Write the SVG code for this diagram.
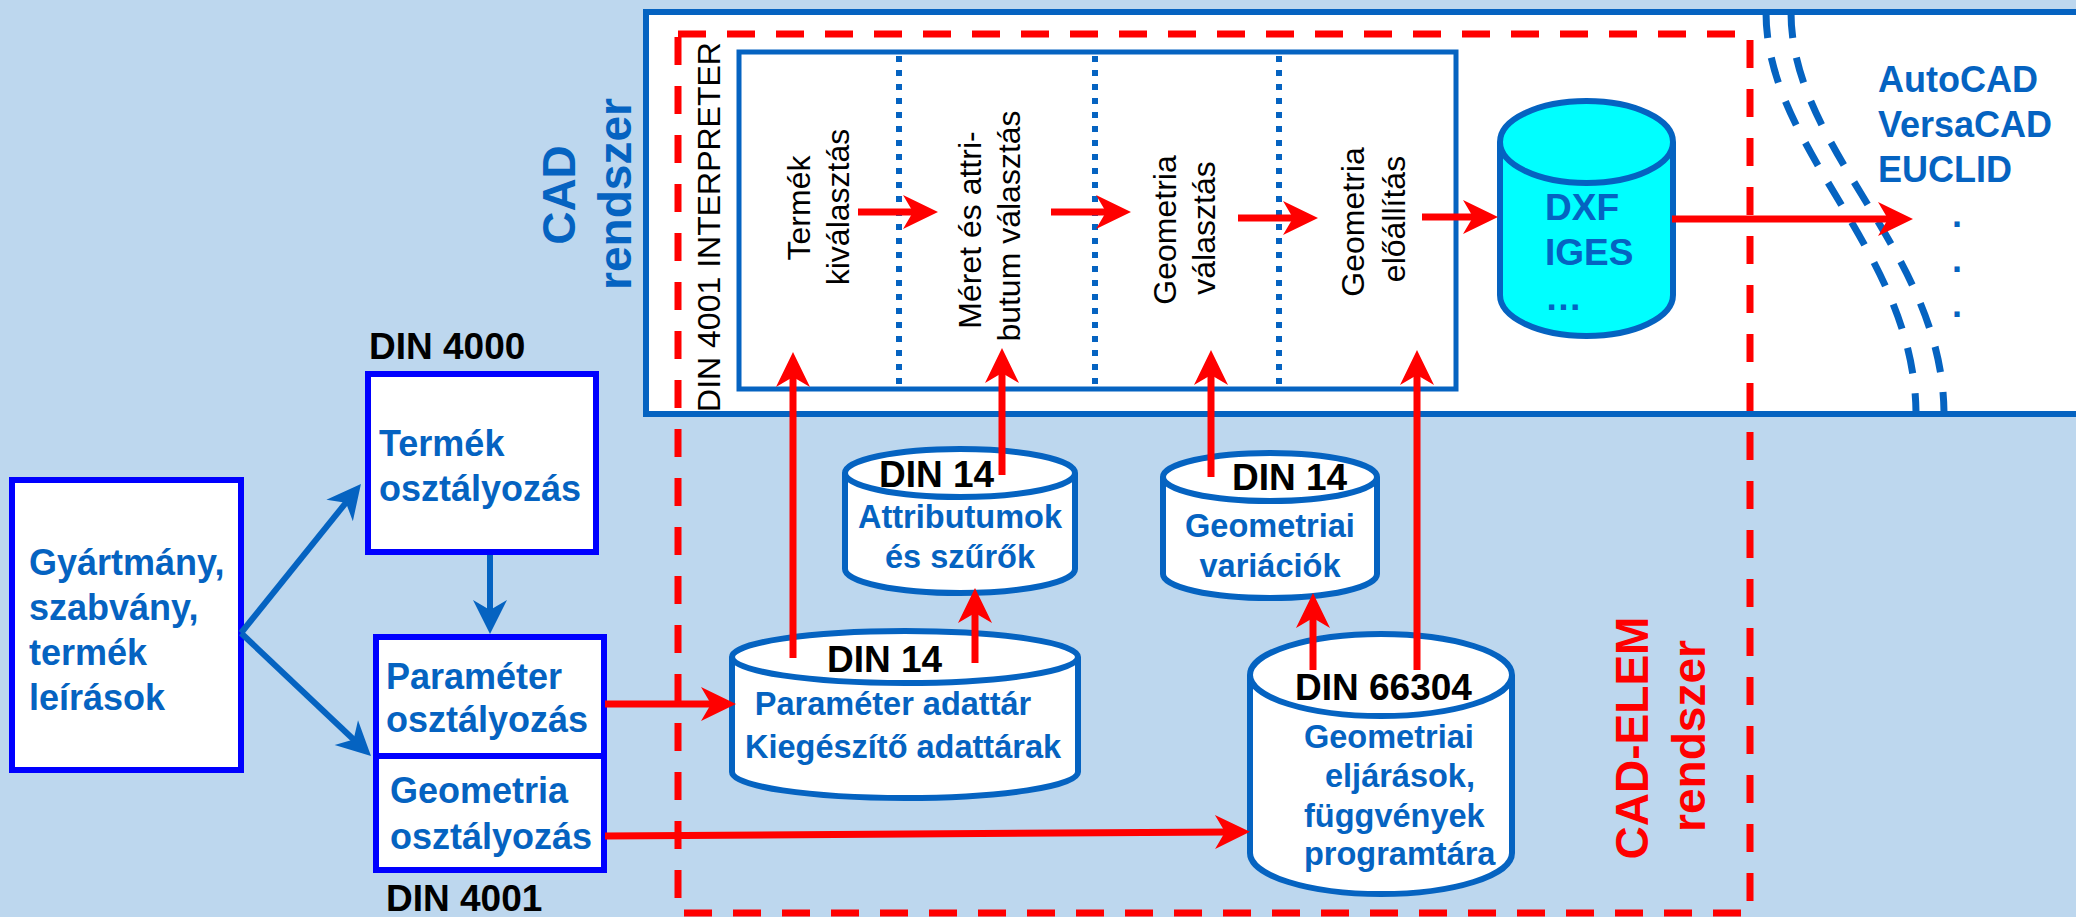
<svg xmlns="http://www.w3.org/2000/svg" width="2076" height="917" viewBox="0 0 2076 917">
<defs>
<style>
text{font-family:"Liberation Sans",Arial,sans-serif}
.bl{fill:#0563C1;font-weight:bold;font-size:36px}
.din{fill:#000;font-weight:bold;font-size:37px}
.step{fill:#000;font-size:32px;text-anchor:middle}
.ct{fill:#0563C1;font-weight:bold;font-size:32.5px}
.cyl{fill:#fff;stroke:#0563C1;stroke-width:6}
.box{fill:#fff;stroke:#0000FF;stroke-width:6}
.red{stroke:#FF0000;stroke-width:7;fill:none;marker-end:url(#ar)}
.blu{stroke:#0563C1;stroke-width:6;fill:none;marker-end:url(#ab)}
.dot{stroke:#0563C1;stroke-width:6;stroke-dasharray:6 8;fill:none}
.cur{stroke:#0563C1;stroke-width:7;stroke-dasharray:26 20;fill:none}
.big{font-weight:bold;font-size:46px;text-anchor:middle}
</style>
<marker id="ar" markerUnits="userSpaceOnUse" viewBox="-20 -20 42 40" markerWidth="42" markerHeight="40" refX="0" refY="0" orient="auto"><path d="M20,0 L-15,-17 L-5,0 L-15,17 Z" fill="#FF0000"/></marker>
<marker id="ab" markerUnits="userSpaceOnUse" viewBox="-20 -20 42 40" markerWidth="42" markerHeight="40" refX="0" refY="0" orient="auto"><path d="M20,0 L-14,-17 L-4,0 L-14,17 Z" fill="#0563C1"/></marker>
</defs>
<rect x="0" y="0" width="2076" height="917" fill="#BDD7EE"/>

<g id="cad-rendszer">
<rect x="646" y="12" width="1500" height="402" fill="#fff" stroke="#0563C1" stroke-width="6"/>
<text class="big" fill="#0563C1" transform="translate(575,195) rotate(-90)">CAD</text>
<text class="big" fill="#0563C1" transform="translate(631,194) rotate(-90)">rendszer</text>
</g>

<g id="interpreter">
<rect x="739" y="52" width="717" height="337" fill="#fff" stroke="#0563C1" stroke-width="5"/>
<line class="dot" x1="899" y1="56" x2="899" y2="386"/>
<line class="dot" x1="1095" y1="56" x2="1095" y2="386"/>
<line class="dot" x1="1279" y1="56" x2="1279" y2="386"/>
<text class="step" transform="translate(720,227) rotate(-90)">DIN 4001 INTERPRETER</text>
<text class="step" transform="translate(810,208) rotate(-90)">Termék</text>
<text class="step" transform="translate(849,207) rotate(-90)">kiválasztás</text>
<text class="step" transform="translate(981,230) rotate(-90)">Méret és  attri-</text>
<text class="step" transform="translate(1020,226) rotate(-90)">butum választás</text>
<text class="step" transform="translate(1176,230) rotate(-90)">Geometria</text>
<text class="step" transform="translate(1215,228) rotate(-90)">választás</text>
<text class="step" transform="translate(1364,222) rotate(-90)">Geometria</text>
<text class="step" transform="translate(1405,219) rotate(-90)">előállítás</text>
</g>

<g id="dxf">
<path class="cyl" style="fill:#00FFFF" d="M1500,142 V295 A86.5,41 0 0 0 1673,295 V142"/>
<ellipse class="cyl" style="fill:#00FFFF" cx="1586.5" cy="142" rx="86.5" ry="41"/>
<text class="bl" style="font-size:37px" x="1545" y="220">DXF</text>
<text class="bl" style="font-size:37px" x="1545" y="265">IGES</text>
<text class="bl" style="font-size:37px" x="1545" y="310">…</text>
</g>

<g id="cad-systems">
<path class="cur" d="M1766,12 C1766,150 1914,250 1916,412"/>
<path class="cur" d="M1791,12 C1791,150 1942,250 1944,412"/>
<text class="bl" x="1878" y="92">AutoCAD</text>
<text class="bl" x="1878" y="137">VersaCAD</text>
<text class="bl" x="1878" y="182">EUCLID</text>
<text class="bl" x="1952" y="227">.</text>
<text class="bl" x="1952" y="272">.</text>
<text class="bl" x="1952" y="317">.</text>
</g>

<g id="cad-elem">
<rect x="678" y="34" width="1072" height="879" fill="none" stroke="#FF0000" stroke-width="7" stroke-dasharray="28 21"/>
<text class="big" fill="#FF0000" transform="translate(1648,738) rotate(-90)">CAD-ELEM</text>
<text class="big" fill="#FF0000" transform="translate(1705,736) rotate(-90)">rendszer</text>
</g>

<g id="gyartmany">
<rect class="box" x="12" y="480" width="229" height="290"/>
<text class="bl" x="29" y="575">Gyártmány,</text>
<text class="bl" x="29" y="620">szabvány,</text>
<text class="bl" x="29" y="665">termék</text>
<text class="bl" x="29" y="710">leírások</text>
</g>

<g id="termek-osztalyozas">
<text class="din" x="369" y="359">DIN 4000</text>
<rect class="box" x="368" y="374" width="228" height="178"/>
<text class="bl" x="379" y="456">Termék</text>
<text class="bl" x="379" y="501">osztályozás</text>
</g>

<g id="parameter-osztalyozas">
<rect class="box" x="376" y="637" width="228" height="119"/>
<text class="bl" x="386" y="689">Paraméter</text>
<text class="bl" x="386" y="732">osztályozás</text>
</g>

<g id="geometria-osztalyozas">
<rect class="box" x="376" y="756" width="228" height="114"/>
<text class="bl" x="390" y="803">Geometria</text>
<text class="bl" x="390" y="849">osztályozás</text>
<text class="din" x="386" y="911">DIN 4001</text>
</g>

<g id="attributumok">
<path class="cyl" d="M845,473 V569 A115,24 0 0 0 1075,569 V473"/>
<ellipse class="cyl" cx="960" cy="473" rx="115" ry="24"/>
<text class="din" x="879" y="487">DIN 14</text>
<text class="ct" x="960" y="528" text-anchor="middle">Attributumok</text>
<text class="ct" x="960" y="568" text-anchor="middle">és szűrők</text>
</g>

<g id="parameter-adattar">
<path class="cyl" d="M732,657 V772 A173,26 0 0 0 1078,772 V657"/>
<ellipse class="cyl" cx="905" cy="657" rx="173" ry="26"/>
<text class="din" x="827" y="672">DIN 14</text>
<text class="ct" x="893" y="715" text-anchor="middle">Paraméter adattár</text>
<text class="ct" x="903" y="758" text-anchor="middle">Kiegészítő adattárak</text>
</g>

<g id="geometriai-variaciok">
<path class="cyl" d="M1163,477 V574 A107,24 0 0 0 1377,574 V477"/>
<ellipse class="cyl" cx="1270" cy="477" rx="107" ry="24"/>
<text class="din" x="1232" y="490">DIN 14</text>
<text class="ct" x="1270" y="537" text-anchor="middle">Geometriai</text>
<text class="ct" x="1270" y="577" text-anchor="middle">variációk</text>
</g>

<g id="programtar">
<path class="cyl" d="M1250,675 V853 A131,41 0 0 0 1512,853 V675"/>
<ellipse class="cyl" cx="1381" cy="675" rx="131" ry="41"/>
<text class="din" x="1295" y="700">DIN 66304</text>
<text class="ct" x="1304" y="748">Geometriai</text>
<text class="ct" x="1325" y="787">eljárások,</text>
<text class="ct" x="1304" y="827">függvények</text>
<text class="ct" x="1304" y="865">programtára</text>
</g>

<g id="connectors">
<line class="blu" x1="241" y1="633" x2="348.4" y2="499.6"/>
<line class="blu" x1="241" y1="633" x2="356.5" y2="742.3"/>
<line class="blu" x1="490" y1="555" x2="490" y2="614"/>
<line class="red" x1="858" y1="212" x2="918" y2="212"/>
<line class="red" x1="1051" y1="212" x2="1111" y2="212"/>
<line class="red" x1="1238" y1="218" x2="1298" y2="218"/>
<line class="red" x1="1422" y1="217" x2="1478" y2="217"/>
<line class="red" x1="1672" y1="219" x2="1893" y2="219"/>
<line class="red" x1="605" y1="704" x2="716" y2="704"/>
<line class="red" x1="605" y1="836" x2="1230" y2="832"/>
<line class="red" x1="793" y1="658" x2="793" y2="372"/>
<line class="red" x1="1002" y1="475" x2="1002" y2="368"/>
<line class="red" x1="1211" y1="477" x2="1211" y2="370"/>
<line class="red" x1="1417" y1="670" x2="1417" y2="370"/>
<line class="red" x1="975" y1="663" x2="975" y2="608"/>
<line class="red" x1="1313" y1="670" x2="1313" y2="613"/>
</g>
</svg>
